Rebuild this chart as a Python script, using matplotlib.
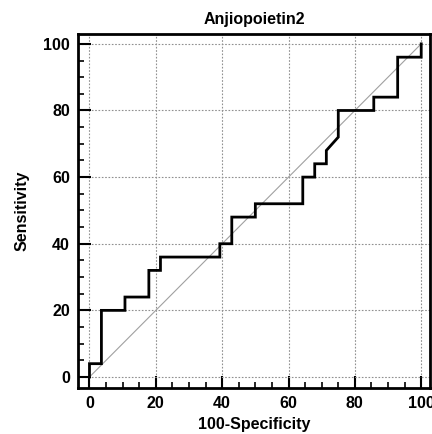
import matplotlib
matplotlib.use("Agg")
import matplotlib.pyplot as plt
from matplotlib.ticker import MultipleLocator

plt.rcParams["font.family"] = ["Liberation Sans", "DejaVu Sans"]
plt.rcParams["font.weight"] = "bold"

TITLE = "Anjiopoietin2"
# ROC vertices (100-specificity, sensitivity), in %
FPR = [0, 0, 3.6, 3.6, 10.7, 10.7, 17.9, 17.9, 21.4, 21.4, 39.3, 39.3, 42.9, 42.9,
       50.0, 50.0, 64.3, 64.3, 67.9, 67.9, 71.4, 71.4, 75.0, 75.0, 85.7, 85.7,
       92.9, 92.9, 100, 100]
TPR = [0, 4, 4, 20, 20, 24, 24, 32, 32, 36, 36, 40, 40, 48, 48, 52, 52, 60, 60, 64,
       64, 68, 72, 80, 80, 84, 84, 96, 96, 100]
TICKS = [0, 20, 40, 60, 80, 100]

fig = plt.figure(figsize=(4.32, 4.34), dpi=100)
ax = fig.add_axes([0.181, 0.106, 0.814, 0.816])

ax.plot([0, 100], [0, 100], color="#a0a0a0", lw=0.8, zorder=2)
ax.plot(FPR, TPR, color="black", lw=2.0, solid_joinstyle="miter", zorder=3)

ax.set_xlim(-3.4, 102.6)
ax.set_ylim(-3.3, 103.0)
ax.set_xticks(TICKS)
ax.set_yticks(TICKS)
ax.xaxis.set_minor_locator(MultipleLocator(5))
ax.yaxis.set_minor_locator(MultipleLocator(5))
ax.tick_params(which="major", direction="in", length=9, width=1.5, labelsize=11.5, pad=6)
ax.tick_params(which="minor", direction="in", length=4.5, width=1.2)
ax.grid(True, which="major", color="#909090", ls=(0, (1.5, 1.5)), lw=0.8)
for s in ax.spines.values():
    s.set_linewidth(2.0)

ax.set_title(TITLE, fontsize=11.5, fontweight="bold", pad=7)
ax.set_xlabel("100-Specificity", fontsize=11.5, fontweight="bold", labelpad=4)
ax.set_ylabel("Sensitivity", fontsize=11.5, fontweight="bold", labelpad=10)

fig.savefig("out.png", dpi=100)
